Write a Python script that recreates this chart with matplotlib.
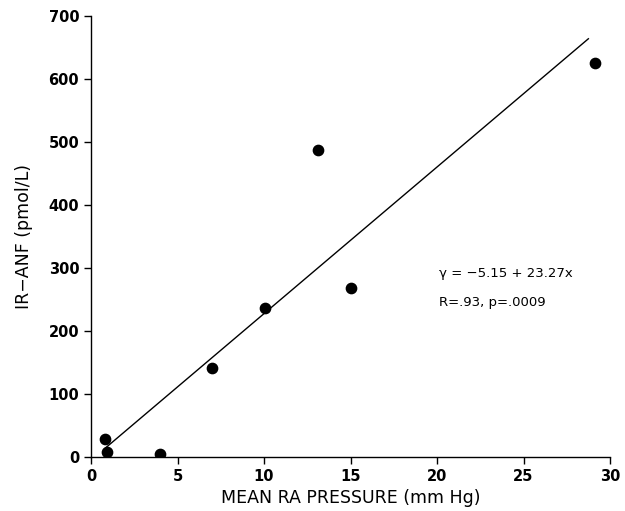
import numpy as np
import matplotlib
matplotlib.use("Agg")
import matplotlib.pyplot as plt

# data
ra_pressure = [0.8, 0.9, 4.0, 7.0, 10.05, 13.1, 15.0, 29.15]
ir_anf = [28, 8, 5, 141, 237, 488, 268, 625]

# regression line as printed
intercept = -5.15
slope = 23.27
fit_x = [0.85, 28.75]

x_ticks = [0, 5, 10, 15, 20, 25, 30]
y_ticks = [0, 100, 200, 300, 400, 500, 600, 700]

plt.rcParams["font.family"] = ["DejaVu Sans"]

fig = plt.figure(figsize=(6.25, 5.11), dpi=100)
ax = fig.add_axes([0.1456, 0.1057, 0.8304, 0.863])

fx = np.array(fit_x)
ax.plot(fx, intercept + slope * fx, color="black", lw=1.0)
ax.scatter(ra_pressure, ir_anf, s=55, color="black", zorder=3)

ax.set_xlim(0, 30)
ax.set_ylim(0, 700)
ax.set_xticks(x_ticks)
ax.set_yticks(y_ticks)
ax.spines["top"].set_visible(False)
ax.spines["right"].set_visible(False)
for s in ("left", "bottom"):
    ax.spines[s].set_linewidth(1.0)
ax.tick_params(direction="out", length=5, width=1.0, labelsize=10.5)
for lab in ax.get_xticklabels() + ax.get_yticklabels():
    lab.set_fontweight("bold")

ax.set_xlabel("MEAN RA PRESSURE (mm Hg)", fontsize=12.5, labelpad=4)
ax.set_ylabel("IR\u2212ANF (pmol/L)", fontsize=12.5, labelpad=11)

ax.text(20.1, 292, "\u03b3 = \u22125.15 + 23.27x", fontsize=9.5, va="center")
ax.text(20.1, 246, "R=.93, p=.0009", fontsize=9.5, va="center")

fig.savefig("out.png", dpi=100)
